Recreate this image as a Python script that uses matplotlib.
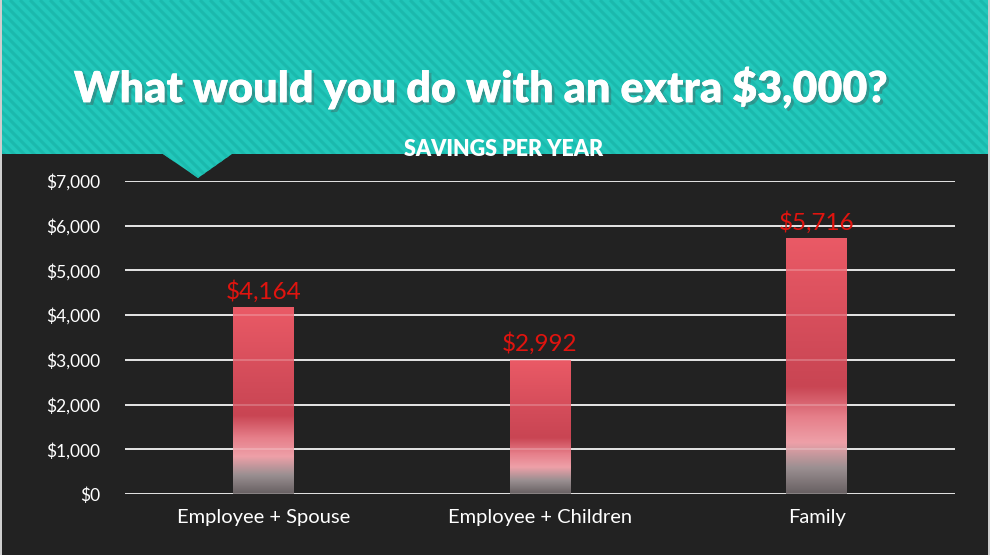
import numpy as np
import matplotlib
matplotlib.use("Agg")
import matplotlib.pyplot as plt
from matplotlib.patches import Polygon, Rectangle
from matplotlib.colors import LinearSegmentedColormap
import matplotlib.patheffects as pe

# data
categories = ["Employee + Spouse", "Employee + Children", "Family"]
savings = [4164, 2992, 5716]
yticks = [0, 1000, 2000, 3000, 4000, 5000, 6000, 7000]
title = "What would you do with an extra $3,000?"
subtitle = "SAVINGS PER YEAR"

BG = "#222222"
TEAL = "#22c8bb"
STRIPE = "#1bb9ad"
LABEL_RED = "#e0140f"

plt.rcParams["font.family"] = ["Lato", "DejaVu Sans"]

W, H = 990, 555
fig = plt.figure(figsize=(W / 100, H / 100), dpi=100)
fig.patch.set_facecolor(BG)

# background layer in pixel coords
bg = fig.add_axes([0, 0, 1, 1])
bg.set_xlim(0, W)
bg.set_ylim(H, 0)
bg.axis("off")

band = Polygon([(0, 0), (W, 0), (W, 154), (232, 154), (198, 178),
                (163, 154), (0, 154)], closed=True, facecolor=TEAL,
               edgecolor="none")
bg.add_patch(band)
for c in range(-220, W + 20, 10):
    ln, = bg.plot([c, c + 200], [0, 200], color=STRIPE, lw=2.2,
                  solid_capstyle="butt")
    ln.set_clip_path(band)

# thin light frame at the edges
bg.add_patch(Rectangle((0, 0), 2, H, facecolor="#cfcfcf", edgecolor="none",
                       zorder=5))
bg.add_patch(Rectangle((W - 2, 0), 2, H, facecolor="#cfcfcf", edgecolor="none",
                       zorder=5))

bg.text(480, 88, title, ha="center", va="center", color="white",
        fontsize=31, fontweight="heavy",
        path_effects=[pe.withSimplePatchShadow(offset=(2, -2), alpha=0.35),
                      pe.Normal()])
bg.text(504, 150, subtitle, ha="center", va="center", color="white",
        fontsize=15.5, fontweight="heavy")

# chart
left, right, top, bottom = 125, 955, 181, 494
ax = fig.add_axes([left / W, (H - bottom) / H, (right - left) / W,
                   (bottom - top) / H])
ax.set_facecolor("none")

for s in ax.spines.values():
    s.set_visible(False)
ax.set_yticks(yticks)
ax.set_yticklabels([f"${v:,}" for v in yticks])
ax.set_xticks(range(len(categories)))
ax.set_xticklabels(categories)
ax.tick_params(axis="both", length=0, colors="white")
ax.tick_params(axis="y", labelsize=12.5, pad=18)
ax.tick_params(axis="x", labelsize=14.5, pad=11)

for v in yticks:
    ax.axhline(v, color="white", lw=1.2, zorder=1)

cmap = LinearSegmentedColormap.from_list("bar", [
    (0.00, "#676062"),
    (0.10, "#9a8f91"),
    (0.20, "#eea0a8"),
    (0.30, "#e67f8a"),
    (0.42, "#c94553"),
    (0.60, "#d24b59"),
    (1.00, "#ea5a66"),
])
grad = np.linspace(0, 1, 256).reshape(-1, 1)
bw = 0.22
for i, val in enumerate(savings):
    ax.imshow(grad, cmap=cmap, origin="lower", aspect="auto",
              extent=[i - bw / 2, i + bw / 2, 0, val], zorder=2)
    ax.text(i, val + 110, f"${val:,}", ha="center", va="bottom",
            color=LABEL_RED, fontsize=17.5, zorder=4)

for v in yticks:
    ax.axhline(v, color="white", lw=1.2, alpha=0.25, zorder=3)

ax.set_xlim(-0.5, len(categories) - 0.5)
ax.set_ylim(0, 7000)

fig.savefig("out.png", dpi=100, facecolor=BG)
